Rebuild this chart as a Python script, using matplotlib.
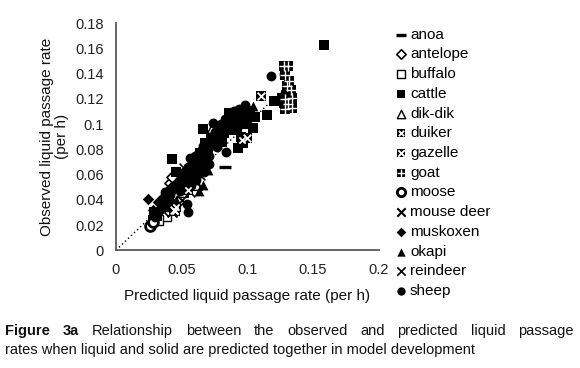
import matplotlib
matplotlib.use("Agg")
import matplotlib.pyplot as plt
from matplotlib.legend_handler import HandlerTuple

plt.rcParams['font.family'] = ['Liberation Sans', 'DejaVu Sans']

# ---- data (predicted x, observed y) ----
anoa_x = [0.083, 0.070]
anoa_y = [0.066, 0.083]
antelope_x = [0.041, 0.047, 0.043, 0.050]
antelope_y = [0.053, 0.038, 0.058, 0.048]
buffalo_x = [0.038, 0.032]
buffalo_y = [0.027, 0.024]
cattle_x = [0.028, 0.029, 0.031, 0.043, 0.046, 0.050, 0.052, 0.058, 0.062, 0.066, 0.068, 0.070,
            0.072, 0.074, 0.076, 0.078, 0.079, 0.082, 0.084, 0.086, 0.088, 0.090, 0.092, 0.093,
            0.094, 0.095, 0.097, 0.098, 0.100, 0.102, 0.104, 0.106, 0.115, 0.120, 0.126, 0.128,
            0.130, 0.158, 0.064, 0.081]
cattle_y = [0.024, 0.030, 0.027, 0.072, 0.062, 0.055, 0.045, 0.060, 0.066, 0.096, 0.085, 0.080,
            0.088, 0.085, 0.092, 0.089, 0.089, 0.093, 0.098, 0.109, 0.095, 0.102, 0.098, 0.081,
            0.108, 0.090, 0.085, 0.104, 0.100, 0.110, 0.097, 0.106, 0.107, 0.118, 0.121, 0.117,
            0.125, 0.163, 0.077, 0.086]
dikdik_x = [0.073, 0.050, 0.062, 0.098]
dikdik_y = [0.097, 0.046, 0.052, 0.113]
duiker_x = [0.045, 0.046, 0.055, 0.096]
duiker_y = [0.031, 0.034, 0.048, 0.087]
gazelle_x = [0.110, 0.100, 0.044]
gazelle_y = [0.122, 0.089, 0.032]
goat_x = [0.128, 0.131, 0.129, 0.132, 0.130, 0.133, 0.129, 0.131, 0.134, 0.129, 0.134]
goat_y = [0.146, 0.146, 0.139, 0.134, 0.130, 0.127, 0.120, 0.116, 0.113, 0.112, 0.121]
moose_x = [0.026, 0.028]
moose_y = [0.019, 0.022]
mousedeer_x = [0.043, 0.052, 0.056, 0.060]
mousedeer_y = [0.030, 0.050, 0.063, 0.055]
muskoxen_x = [0.024, 0.028, 0.032, 0.036, 0.042]
muskoxen_y = [0.041, 0.032, 0.038, 0.042, 0.050]
okapi_x = [0.040, 0.046, 0.055, 0.058, 0.063, 0.064, 0.066, 0.068, 0.070, 0.104, 0.060]
okapi_y = [0.042, 0.040, 0.058, 0.062, 0.047, 0.081, 0.052, 0.072, 0.064, 0.114, 0.070]
reindeer_x = [0.055, 0.056, 0.050, 0.064, 0.052, 0.036]
reindeer_y = [0.057, 0.046, 0.040, 0.060, 0.065, 0.031]
sheep_x = [0.030, 0.032, 0.034, 0.036, 0.037, 0.038, 0.040, 0.041, 0.043, 0.044, 0.045, 0.046,
           0.048, 0.049, 0.050, 0.052, 0.053, 0.054, 0.055, 0.055, 0.056, 0.057, 0.058, 0.059,
           0.060, 0.061, 0.062, 0.063, 0.064, 0.065, 0.066, 0.067, 0.068, 0.069, 0.070, 0.071,
           0.072, 0.073, 0.074, 0.075, 0.076, 0.078, 0.079, 0.080, 0.082, 0.083, 0.084, 0.085,
           0.087, 0.088, 0.090, 0.092, 0.094, 0.096, 0.098, 0.100, 0.118, 0.128, 0.129,
           0.057, 0.061, 0.067, 0.071, 0.077]
sheep_y = [0.026, 0.030, 0.033, 0.038, 0.046, 0.035, 0.040, 0.044, 0.048, 0.036, 0.052, 0.050,
           0.055, 0.047, 0.058, 0.062, 0.053, 0.037, 0.030, 0.066, 0.073, 0.058, 0.070, 0.064,
           0.075, 0.068, 0.060, 0.078, 0.072, 0.066, 0.083, 0.074, 0.070, 0.086, 0.080, 0.075,
           0.090, 0.084, 0.101, 0.094, 0.088, 0.097, 0.091, 0.100, 0.095, 0.104, 0.078, 0.098,
           0.106, 0.100, 0.110, 0.104, 0.112, 0.107, 0.115, 0.110, 0.138, 0.140, 0.125,
           0.052, 0.056, 0.062, 0.068, 0.082]

x_ticks = [0, 0.05, 0.1, 0.15, 0.2]
x_ticklabels = ['0', '0.05', '0.1', '0.15', '0.2']
y_ticks = [0, 0.02, 0.04, 0.06, 0.08, 0.1, 0.12, 0.14, 0.16, 0.18]
y_ticklabels = ['0', '0.02', '0.04', '0.06', '0.08', '0.1', '0.12', '0.14', '0.16', '0.18']
line_x = [0, 0.13]
line_y = [0, 0.13]

fig = plt.figure(figsize=(5.8, 3.68), dpi=100)
ax = fig.add_axes([0.2, 0.32, 0.453, 0.617])

ax.plot(line_x, line_y, ls=(0, (1, 2)), color='black', lw=1.0, zorder=1)

S = 50
h = {}
h['anoa'] = ax.scatter(anoa_x, anoa_y, marker='_', s=64, c='black', linewidths=2.4, zorder=3)
h['antelope'] = ax.scatter(antelope_x, antelope_y, marker='D', s=32, facecolors='white', edgecolors='black', linewidths=1.2, zorder=3)
h['buffalo'] = ax.scatter(buffalo_x, buffalo_y, marker='s', s=S, facecolors='white', edgecolors='black', linewidths=1.0, zorder=3)
h['cattle'] = ax.scatter(cattle_x, cattle_y, marker='s', s=S, c='black', linewidths=0, zorder=3)
h['dikdik'] = ax.scatter(dikdik_x, dikdik_y, marker='^', s=S, facecolors='white', edgecolors='black', linewidths=1.0, zorder=3)
d1 = ax.scatter(duiker_x, duiker_y, marker='s', s=S, c='black', linewidths=0, zorder=3)
d2 = ax.scatter(duiker_x, duiker_y, marker='x', s=20, c='white', linewidths=1.3, zorder=4)
h['duiker'] = (d1, d2)
g1 = ax.scatter(gazelle_x, gazelle_y, marker='s', s=S, c='black', linewidths=0, zorder=3)
g2 = ax.scatter(gazelle_x, gazelle_y, marker='x', s=30, c='white', linewidths=1.3, zorder=4)
h['gazelle'] = (g1, g2)
o1 = ax.scatter(goat_x, goat_y, marker='s', s=S, c='black', linewidths=0, zorder=3)
o2 = ax.scatter(goat_x, goat_y, marker='+', s=50, c='white', linewidths=1.0, zorder=4)
h['goat'] = (o1, o2)
h['moose'] = ax.scatter(moose_x, moose_y, marker='o', s=S, facecolors='white', edgecolors='black', linewidths=2.0, zorder=3)
h['mousedeer'] = ax.scatter(mousedeer_x, mousedeer_y, marker='x', s=S, c='black', linewidths=1.5, zorder=3)
h['muskoxen'] = ax.scatter(muskoxen_x, muskoxen_y, marker='D', s=34, c='black', linewidths=0, zorder=3)
h['okapi'] = ax.scatter(okapi_x, okapi_y, marker='^', s=S, c='black', linewidths=0, zorder=3)
h['reindeer'] = ax.scatter(reindeer_x, reindeer_y, marker='x', s=S, c='black', linewidths=1.2, zorder=3)
h['sheep'] = ax.scatter(sheep_x, sheep_y, marker='o', s=S, c='black', linewidths=0, zorder=3)

ax.set_xlim(0, 0.2)
ax.set_ylim(0, 0.18)
ax.set_xticks(x_ticks)
ax.set_xticklabels(x_ticklabels)
ax.set_yticks(y_ticks)
ax.set_yticklabels(y_ticklabels)
ax.tick_params(length=0, labelsize=10.5, pad=9, colors='#222222')
for sp in ['top', 'right']:
    ax.spines[sp].set_visible(False)
for sp in ['left', 'bottom']:
    ax.spines[sp].set_color('#595959')
    ax.spines[sp].set_linewidth(1.3)
ax.set_xlabel('Predicted liquid passage rate (per h)', fontsize=11, labelpad=9, color='#111111')
ax.set_ylabel('Observed liquid passage rate\n(per h)', fontsize=11, labelpad=4, color='#111111', linespacing=1.1)

labels = ['anoa', 'antelope', 'buffalo', 'cattle', 'dik-dik', 'duiker', 'gazelle', 'goat',
          'moose', 'mouse deer', 'muskoxen', 'okapi', 'reindeer', 'sheep']
keys = ['anoa', 'antelope', 'buffalo', 'cattle', 'dikdik', 'duiker', 'gazelle', 'goat',
        'moose', 'mousedeer', 'muskoxen', 'okapi', 'reindeer', 'sheep']
leg = fig.legend([h[k] for k in keys], labels, loc='upper left', bbox_to_anchor=(0.683, 0.925),
                 frameon=False, fontsize=11, handlelength=0.6, handletextpad=0.3,
                 labelspacing=0.375, borderaxespad=0, borderpad=0, markerscale=0.85,
                 handler_map={tuple: HandlerTuple(ndivide=1)})

# caption, justified on first line
fig.canvas.draw()
renderer = fig.canvas.get_renderer()
line1 = [('Figure', 'bold'), ('3a', 'bold'), ('Relationship', 'normal'), ('between', 'normal'),
         ('the', 'normal'), ('observed', 'normal'), ('and', 'normal'), ('predicted', 'normal'),
         ('liquid', 'normal'), ('passage', 'normal')]
x0, x1 = 5, 574
y1 = 368 - 331
texts = []
for w, wt in line1:
    t = fig.text(0, 0, w, fontsize=10.5, fontweight=wt, va='center', ha='left', color='#111111')
    texts.append(t)
widths = [t.get_window_extent(renderer).width for t in texts]
gap = (x1 - x0 - sum(widths)) / (len(texts) - 1)
xp = x0
for t, wd in zip(texts, widths):
    t.set_position((xp / 580, y1 / 368))
    xp += wd + gap
fig.text(5 / 580, (368 - 350) / 368, 'rates when liquid and solid are predicted together in model development',
         fontsize=10.5, va='center', ha='left', color='#111111')

fig.savefig('out.png', dpi=100)
